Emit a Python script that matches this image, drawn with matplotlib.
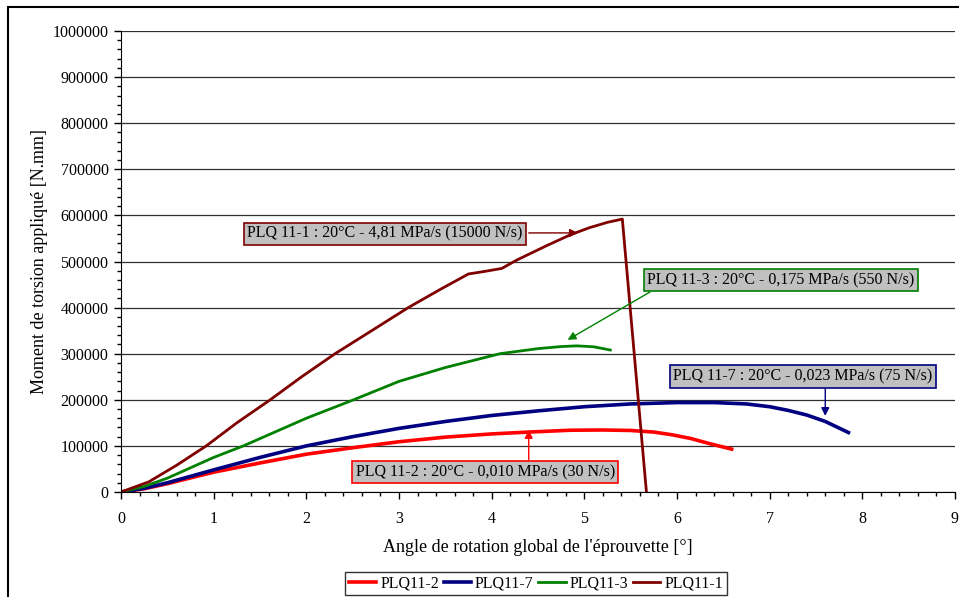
import matplotlib
matplotlib.use('Agg')
import matplotlib.pyplot as plt
from matplotlib.patches import Rectangle
from matplotlib.ticker import MultipleLocator, FuncFormatter

plt.rcParams['font.family'] = ['Liberation Serif', 'DejaVu Serif']

# PLQ11-2 : 30 N/s
x_112 = [0, 0.25, 0.5, 1.0, 1.5, 2.0, 2.5, 3.0, 3.5, 4.0, 4.4, 4.85, 5.2, 5.5, 5.75, 5.95,
         6.15, 6.35, 6.59]
y_112 = [0, 7000, 18000, 43000, 63000, 82000, 96000, 109000, 119000, 126000, 130000, 134000,
         134500, 133500, 130000, 124000, 116000, 105000, 93000]

# PLQ11-7 : 75 N/s
x_117 = [0, 0.25, 0.5, 1.0, 1.5, 2.0, 2.5, 3.0, 3.5, 4.0, 4.5, 5.0, 5.5, 6.0, 6.4, 6.75,
         7.0, 7.2, 7.4, 7.6, 7.85]
y_117 = [0, 8000, 20000, 48000, 75000, 100000, 120000, 138000, 153000, 166000, 176000,
         185000, 191000, 194000, 194000, 191000, 185000, 177000, 167000, 153000, 129000]

# PLQ11-3 : 550 N/s
x_113 = [0, 0.25, 0.5, 1.0, 1.32, 2.0, 2.51, 3.0, 3.5, 4.09, 4.5, 4.75, 4.92, 5.1, 5.28]
y_113 = [0, 12000, 30000, 75000, 100000, 160000, 200000, 240000, 270000, 300000, 311000,
         315500, 317000, 315000, 308000]

# PLQ11-1 : 15000 N/s
x_111 = [0, 0.3, 0.6, 0.92, 1.25, 1.61, 1.95, 2.31, 2.69, 3.1, 3.45, 3.75, 3.91, 4.11,
         4.27, 4.6, 4.85, 5.05, 5.25, 5.41, 5.67]
y_111 = [0, 22000, 58000, 100000, 150000, 200000, 250000, 300000, 348000, 400000, 440000,
         473000, 478000, 485000, 503000, 535000, 558000, 573000, 585000, 592000, 0]

series = [
    ('PLQ11-2', x_112, y_112, '#ff0000', 2.6),
    ('PLQ11-7', x_117, y_117, '#000080', 2.6),
    ('PLQ11-3', x_113, y_113, '#008000', 2.0),
    ('PLQ11-1', x_111, y_111, '#800000', 2.0),
]

# annotation: text, text centre, arrow start, arrow tip, colour
notes = [
    ('PLQ 11-1 : 20°C - 4,81 MPa/s (15000 N/s)', (2.85, 560000), (4.40, 562000), (4.93, 562000), '#800000'),
    ('PLQ 11-3 : 20°C - 0,175 MPa/s (550 N/s)', (7.12, 460000), (5.71, 434000), (4.82, 330000), '#008000'),
    ('PLQ 11-7 : 20°C - 0,023 MPa/s (75 N/s)', (7.36, 250500), (7.60, 225000), (7.60, 165000), '#000080'),
    ('PLQ 11-2 : 20°C - 0,010 MPa/s (30 N/s)', (3.93, 43000), (4.40, 70000), (4.40, 134500), '#ff0000'),
]

fig = plt.figure(figsize=(9.59, 5.97), dpi=100)
ax = fig.add_axes([121 / 959, 1 - 492 / 597, (955 - 121) / 959, (492 - 31) / 597])

for name, xs, ys, col, lw in series:
    ax.plot(xs, ys, color=col, lw=lw, label=name, solid_joinstyle='round')

for txt, tpos, start, tip, col in notes:
    ax.annotate('', xy=tip, xytext=start,
                arrowprops=dict(arrowstyle='-|>', color=col, lw=1.0,
                                mutation_scale=12, shrinkA=0, shrinkB=0), zorder=4)
    ax.text(tpos[0], tpos[1], txt, fontsize=11.5, ha='center', va='center', zorder=5,
            bbox=dict(boxstyle='square,pad=0.2', fc='#c0c0c0', ec=col, lw=1.2))

ax.set_xlim(0, 9)
ax.set_ylim(0, 1000000)
ax.xaxis.set_major_locator(MultipleLocator(1))
ax.xaxis.set_minor_locator(MultipleLocator(0.2))
ax.yaxis.set_major_locator(MultipleLocator(100000))
ax.yaxis.set_minor_locator(MultipleLocator(20000))
ax.yaxis.set_major_formatter(FuncFormatter(lambda v, p: '%d' % round(v)))
ax.grid(axis='y', which='major', color='#303030', lw=0.9)
ax.set_axisbelow(True)
ax.spines['top'].set_visible(False)
ax.spines['right'].set_visible(False)
ax.tick_params(which='major', length=5, width=1, labelsize=11.5)
ax.tick_params(which='minor', length=3, width=1)
ax.tick_params(axis='x', pad=9)
ax.tick_params(axis='y', pad=4)

ax.set_xlabel("Angle de rotation global de l'éprouvette [°]", fontsize=13, labelpad=8)
ax.set_ylabel('Moment de torsion appliqué [N.mm]', fontsize=13, labelpad=3)

leg = fig.legend(loc='center', bbox_to_anchor=(536 / 959, 1 - 583.5 / 597), ncol=4,
                 fontsize=11.5, frameon=True, fancybox=False, edgecolor='black',
                 handlelength=1.7, handletextpad=0.25, columnspacing=0.3,
                 borderpad=0.25)
leg.get_frame().set_linewidth(1.0)

fig.patches.append(Rectangle((8 / 959, -0.05), 1.2, 1 - 7 / 597 + 0.05,
                             transform=fig.transFigure, fill=False, ec='black', lw=1.5))

fig.savefig('out.png', dpi=100)
